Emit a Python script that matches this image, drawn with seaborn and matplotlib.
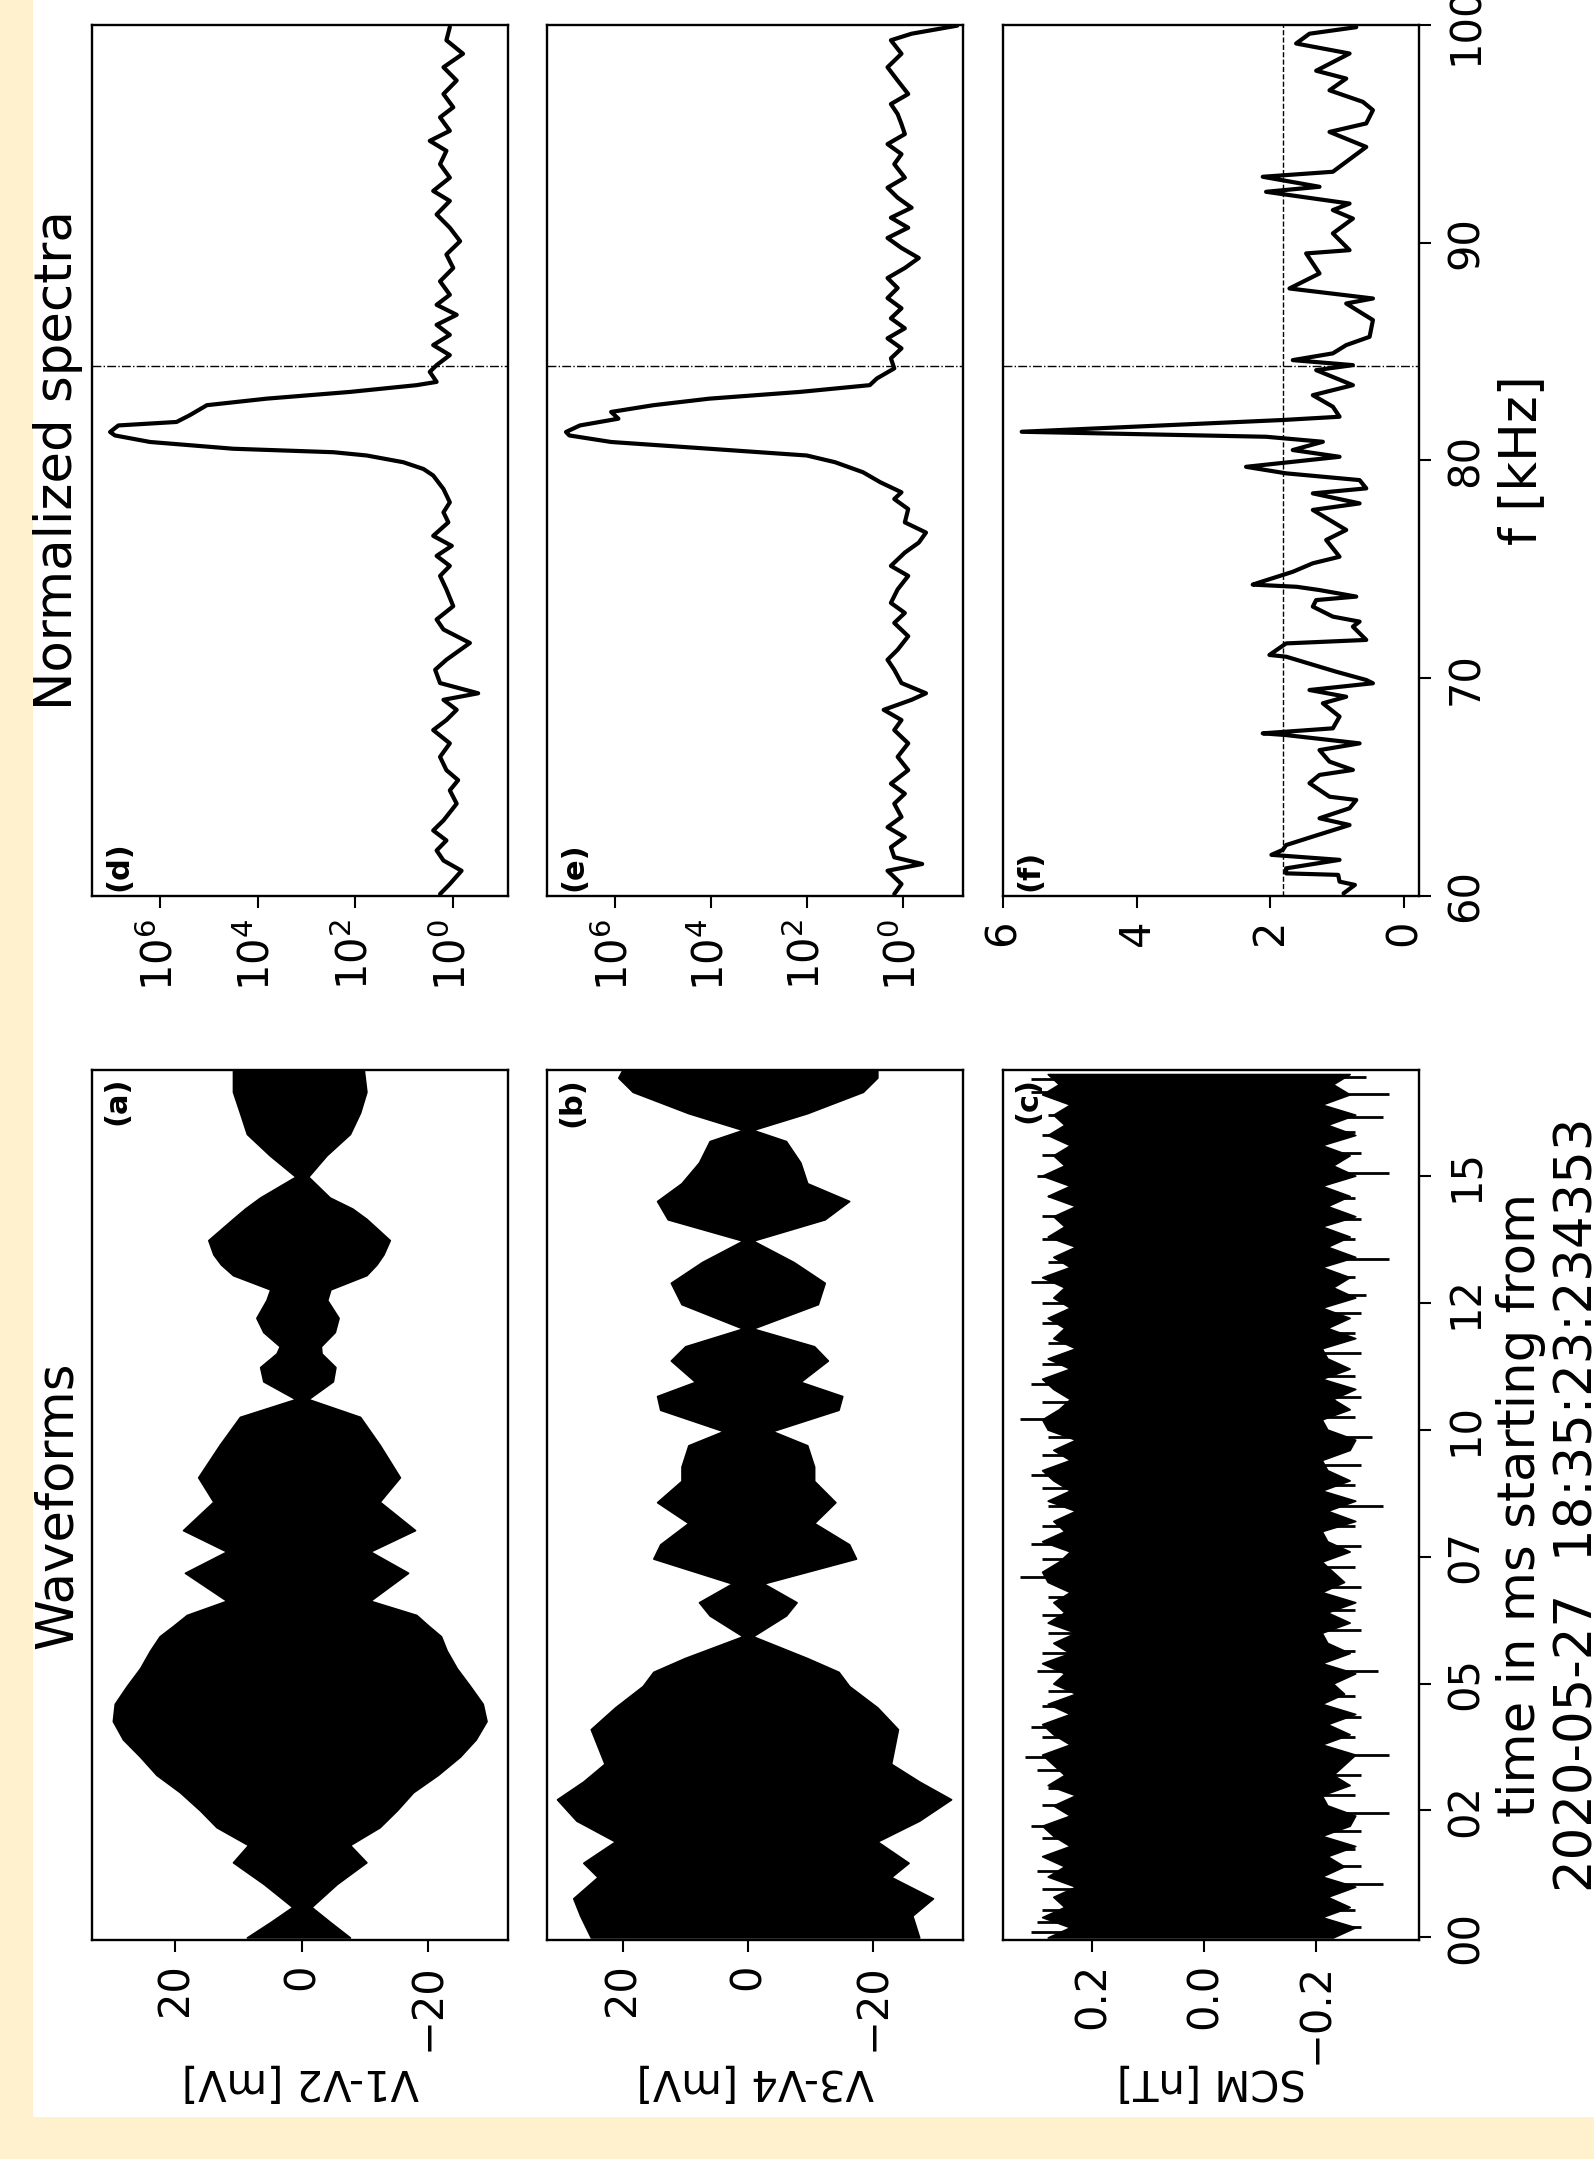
import numpy as np
import pandas as pd
import matplotlib
matplotlib.use("Agg")
import matplotlib.pyplot as plt
from matplotlib.patches import Rectangle
from matplotlib.ticker import FixedLocator, NullLocator
import seaborn as sns

# ---------------- data ----------------
# (a) V1-V2 envelope [mV] vs time [ms]
a_time = [0.0, 0.3, 0.6, 1.05, 1.48, 1.82, 2.17, 2.5, 2.86, 3.2, 3.56, 3.9, 4.26, 4.6, 4.95,
          5.3, 5.65, 5.93, 6.14, 6.35, 6.63, 7.18, 7.6, 8.02, 8.58, 9.06, 9.7, 10.25, 10.6,
          10.95, 11.23, 11.5, 11.64, 11.92, 12.2, 12.55, 12.76, 13.04, 13.25, 13.45, 13.73,
          14.15, 14.35, 14.57, 14.98, 15.4, 15.82, 16.24, 16.65, 17.07]
a_upper = [8.7, 5.0, 1.5, 6.0, 10.9, 8.5, 13.5, 16.1, 19.3, 23.0, 25.6, 28.3, 29.9, 29.6, 27.7,
           25.6, 24.0, 22.5, 20.3, 18.2, 11.9, 18.5, 11.9, 18.8, 14.0, 16.4, 13.0, 9.8, 1.0,
           6.1, 6.6, 4.0, 3.5, 6.1, 7.2, 5.6, 5.0, 10.9, 12.8, 14.0, 14.8, 10.9, 9.0, 6.6, 1.0,
           5.1, 8.7, 9.8, 10.9, 10.9]
a_lower = [-7.6, -4.5, -1.5, -5.5, -10.2, -7.6, -12.3, -15.0, -17.6, -21.5, -25.0, -27.5,
           -29.2, -28.6, -26.6, -24.5, -22.9, -22.0, -20.0, -18.1, -10.8, -16.8, -10.8, -17.9,
           -12.3, -15.5, -12.3, -9.2, -1.0, -4.9, -5.3, -3.1, -3.0, -5.2, -5.8, -4.0, -4.5,
           -10.2, -11.8, -12.9, -13.9, -10.2, -8.0, -4.4, -1.0, -3.9, -7.6, -9.2, -10.2, -9.8]

# (b) V3-V4 envelope [mV]
b_time = [0.0, 0.43, 0.77, 1.19, 1.47, 1.89, 2.3, 2.72, 3.07, 3.42, 4.1, 4.53, 4.95, 5.23,
          5.5, 5.93, 6.34, 6.6, 6.97, 7.46, 7.74, 8.16, 8.57, 8.99, 9.27, 9.69, 9.97, 10.39,
          10.66, 10.94, 11.36, 11.64, 11.99, 12.47, 12.89, 13.3, 13.72, 14.14, 14.5, 14.85,
          15.26, 15.68, 15.9, 16.23, 16.65, 16.93, 17.07]
b_upper = [25.1, 26.8, 27.9, 24.0, 26.3, 21.2, 27.4, 30.5, 26.3, 22.9, 25.1, 21.2, 16.8, 15.1,
           10.1, 0.8, 6.1, 7.8, 2.5, 15.1, 14.0, 9.5, 14.5, 10.6, 10.6, 9.5, 3.9, 14.0, 14.5,
           8.4, 12.3, 10.0, 0.8, 10.6, 12.3, 7.3, 0.8, 12.8, 14.5, 10.6, 7.8, 6.1, 0.8, 9.5,
           18.4, 20.7, 20.1]
b_lower = [-27.4, -26.3, -29.6, -22.9, -25.7, -20.7, -27.4, -32.5, -27.4, -22.9, -24.0, -20.7,
           -16.2, -14.5, -9.5, -0.8, -6.1, -7.8, -2.5, -17.3, -16.2, -10.6, -14.0, -10.6,
           -10.6, -9.5, -3.9, -14.5, -15.1, -8.4, -12.8, -10.6, -0.8, -11.2, -12.3, -7.3,
           -0.8, -12.3, -16.2, -9.5, -8.4, -6.1, -0.8, -9.5, -18.4, -20.7, -20.7]

# (c) SCM: dense core envelope [nT] sampled every 0.2 ms, plus isolated spikes
c_upper = [0.28, 0.24, 0.29, 0.25, 0.27, 0.23, 0.28, 0.25, 0.29, 0.24,
           0.27, 0.29, 0.24, 0.27, 0.23, 0.28, 0.25, 0.27, 0.29, 0.24,
           0.27, 0.29, 0.24, 0.28, 0.23, 0.27, 0.25, 0.29, 0.24, 0.27,
           0.23, 0.28, 0.25, 0.27, 0.24, 0.28, 0.29, 0.26, 0.24, 0.29,
           0.25, 0.27, 0.23, 0.28, 0.24, 0.27, 0.29, 0.24, 0.27, 0.23,
           0.28, 0.29, 0.26, 0.24, 0.27, 0.29, 0.24, 0.28, 0.23, 0.27,
           0.25, 0.28, 0.24, 0.27, 0.25, 0.29, 0.24, 0.27, 0.23, 0.28,
           0.25, 0.27, 0.23, 0.28, 0.24, 0.29, 0.25, 0.27, 0.24, 0.28,
           0.25, 0.27, 0.24, 0.29, 0.26, 0.28]
c_lower = [-0.23, -0.27, -0.21, -0.26, -0.22, -0.27, -0.21, -0.25, -0.22, -0.27,
           -0.21, -0.26, -0.27, -0.22, -0.21, -0.26, -0.23, -0.25, -0.27, -0.21,
           -0.26, -0.22, -0.27, -0.21, -0.25, -0.23, -0.27, -0.21, -0.26, -0.22,
           -0.21, -0.26, -0.22, -0.27, -0.21, -0.25, -0.23, -0.21, -0.26, -0.22,
           -0.21, -0.27, -0.22, -0.27, -0.21, -0.26, -0.22, -0.21, -0.26, -0.27,
           -0.22, -0.21, -0.26, -0.23, -0.27, -0.21, -0.26, -0.22, -0.21, -0.27,
           -0.22, -0.26, -0.21, -0.27, -0.23, -0.26, -0.21, -0.27, -0.22, -0.26,
           -0.21, -0.27, -0.22, -0.26, -0.21, -0.27, -0.23, -0.26, -0.21, -0.27,
           -0.22, -0.27, -0.21, -0.26, -0.23, -0.26]
c_time = np.linspace(0.0, 17.0, len(c_upper))
c_spike_pos_t = [0.10, 0.30, 0.55, 0.95, 1.30, 1.60, 1.95, 2.20, 2.60, 2.95, 3.30, 3.55, 3.95,
                 4.15, 4.55, 4.85, 5.25, 5.60, 6.00, 6.35, 6.70, 7.10, 7.45, 7.75, 8.10, 8.50,
                 8.85, 9.10, 9.50, 9.85, 10.20, 10.55, 10.90, 11.30, 11.70, 12.10, 12.50,
                 12.90, 13.30, 13.75, 14.20, 14.60, 15.00, 15.40, 15.80, 16.20, 16.65, 16.90]
c_spike_pos_v = [0.31, 0.30, 0.29, 0.29, 0.30, 0.28, 0.29, 0.31, 0.29, 0.28, 0.30, 0.32, 0.29,
                 0.31, 0.29, 0.28, 0.30, 0.29, 0.28, 0.29, 0.28, 0.33, 0.29, 0.31, 0.29, 0.28,
                 0.29, 0.31, 0.29, 0.28, 0.33, 0.29, 0.31, 0.29, 0.28, 0.29, 0.29, 0.31, 0.28,
                 0.29, 0.29, 0.28, 0.30, 0.29, 0.29, 0.28, 0.31, 0.31]
c_spike_neg_t = [0.20, 0.55, 1.05, 1.40, 1.75, 2.10, 2.45, 2.80, 3.20, 3.60, 3.95, 4.35, 4.75,
                 5.25, 5.65, 6.05, 6.45, 6.90, 7.30, 7.70, 8.10, 8.50, 8.90, 9.30, 9.85, 10.25,
                 10.65, 11.05, 11.50, 11.90, 12.30, 12.65, 13.00, 13.35, 13.75, 14.15, 14.55,
                 15.05, 15.45, 15.85, 16.15, 16.60, 16.95]
c_spike_neg_v = [-0.28, -0.27, -0.32, -0.28, -0.27, -0.28, -0.33, -0.27, -0.28, -0.33, -0.27,
                 -0.28, -0.27, -0.31, -0.27, -0.28, -0.27, -0.28, -0.27, -0.28, -0.27, -0.32,
                 -0.27, -0.28, -0.30, -0.27, -0.28, -0.27, -0.28, -0.27, -0.28, -0.29, -0.27,
                 -0.33, -0.27, -0.28, -0.27, -0.33, -0.28, -0.27, -0.32, -0.33, -0.29]

# (d) normalized spectrum of V1-V2: frequency [kHz], log10(power)
d_freq = [60.09, 60.55, 61.16, 61.63, 62.09, 62.55, 63.01, 63.47, 64.24, 64.85, 65.32, 65.78,
          66.39, 67.01, 67.62, 68.08, 68.55, 69.01, 69.31, 69.78, 70.39, 70.85, 71.62, 72.24,
          72.70, 73.31, 74.08, 74.70, 75.16, 75.62, 76.08, 76.54, 77.16, 77.62, 78.08, 78.69,
          79.31, 79.61, 79.92, 80.23, 80.38, 80.54, 80.85, 81.15, 81.31, 81.61, 81.77, 82.08,
          82.54, 82.84, 83.15, 83.46, 83.61, 84.07, 84.38, 84.84, 85.30, 85.77, 86.23, 86.69,
          87.15, 87.61, 88.23, 88.84, 89.46, 90.07, 90.69, 91.30, 91.92, 92.38, 92.99, 93.61,
          94.22, 94.68, 95.14, 95.76, 96.22, 96.83, 97.45, 98.06, 98.68, 99.30, 99.91]
d_log10 = [0.27, 0.07, -0.17, 0.20, 0.34, 0.14, 0.41, 0.20, -0.07, 0.07, -0.10, 0.14, 0.27,
           0.07, 0.41, 0.14, -0.07, 0.20, -0.51, 0.27, 0.37, 0.14, -0.34, 0.20, 0.34, 0.00,
           0.14, 0.27, 0.07, 0.34, 0.03, 0.41, 0.10, 0.20, 0.07, 0.20, 0.41, 0.61, 1.02, 1.77,
           2.45, 4.50, 6.20, 6.92, 7.02, 6.85, 5.66, 5.39, 5.04, 3.82, 2.11, 0.75, 0.34, 0.48,
           0.34, 0.07, 0.41, 0.07, 0.34, -0.07, 0.34, 0.07, 0.27, 0.00, 0.14, -0.14, 0.07, 0.34,
           0.07, 0.41, 0.07, 0.27, 0.14, 0.48, 0.07, 0.27, 0.00, 0.20, -0.07, 0.20, -0.20, 0.14,
           0.07]

# (e) normalized spectrum of V3-V4
e_freq = [60.09, 60.55, 61.16, 61.47, 61.78, 62.24, 62.70, 63.16, 63.63, 64.24, 64.70, 65.16,
          65.78, 66.39, 67.01, 67.62, 68.08, 68.55, 69.01, 69.31, 69.78, 70.39, 70.85, 71.31,
          71.93, 72.54, 73.00, 73.46, 74.08, 74.70, 75.16, 75.77, 76.23, 76.69, 77.16, 77.77,
          78.23, 78.54, 79.00, 79.46, 79.92, 80.23, 80.54, 80.85, 81.15, 81.31, 81.61, 81.92,
          82.23, 82.54, 82.84, 83.15, 83.46, 83.77, 84.23, 84.69, 85.15, 85.61, 86.07, 86.53,
          86.99, 87.46, 87.92, 88.38, 88.84, 89.30, 89.76, 90.22, 90.69, 91.15, 91.61, 92.07,
          92.53, 92.99, 93.61, 94.07, 94.53, 94.99, 95.45, 95.91, 96.37, 96.83, 97.45, 98.06,
          98.68, 99.30, 99.60, 99.97]
e_log10 = [0.19, 0.04, 0.33, -0.39, 0.19, 0.26, -0.03, 0.33, 0.04, 0.19, -0.03, 0.26, -0.10,
           0.12, -0.10, 0.19, 0.04, 0.41, -0.17, -0.47, 0.04, 0.19, 0.33, 0.12, -0.10, 0.19,
           -0.03, 0.26, 0.12, -0.10, 0.26, -0.03, -0.32, -0.47, -0.03, -0.10, 0.19, 0.04, 0.48,
           0.84, 1.42, 2.01, 4.04, 6.08, 6.95, 7.02, 6.73, 5.93, 6.08, 5.20, 4.04, 2.15, 0.70,
           0.55, 0.19, 0.26, 0.04, 0.33, -0.03, 0.26, 0.04, 0.33, 0.12, 0.33, -0.03, -0.32,
           0.04, 0.33, -0.10, 0.26, -0.17, 0.12, 0.33, -0.03, 0.19, 0.04, 0.33, -0.03, 0.04,
           0.12, 0.26, -0.10, 0.12, 0.33, 0.04, 0.26, -0.17, -1.12]

# (f) normalized spectrum of SCM (linear)
f_freq = [60.12, 60.51, 60.66, 60.97, 61.04, 61.27, 61.66, 61.89, 62.12, 62.34, 62.73, 63.26,
          63.57, 64.03, 64.41, 64.56, 65.18, 65.56, 65.79, 66.17, 66.70, 67.01, 67.39, 67.47,
          67.70, 68.24, 68.85, 69.15, 69.46, 69.77, 69.92, 70.30, 70.99, 71.07, 71.60, 71.76,
          72.37, 72.60, 72.83, 73.29, 73.59, 73.75, 74.05, 74.20, 74.30, 74.45, 74.89, 75.28,
          75.58, 76.35, 76.81, 77.73, 78.03, 78.49, 78.72, 79.10, 79.41, 79.71, 80.17, 80.48,
          80.86, 81.09, 81.32, 81.86, 82.01, 82.47, 83.00, 83.46, 84.15, 84.38, 84.61, 84.92,
          85.30, 85.68, 86.45, 87.21, 87.44, 87.90, 88.59, 89.51, 89.66, 90.43, 91.11, 91.50,
          91.80, 92.34, 92.57, 93.03, 93.26, 93.49, 94.40, 95.09, 95.48, 96.09, 96.47, 97.00,
          97.54, 97.90, 98.69, 99.15, 99.60, 99.90]
f_value = [0.90, 0.73, 0.96, 0.98, 1.76, 1.76, 0.96, 1.98, 1.81, 1.76, 1.36, 0.81, 1.26, 0.81,
           0.71, 1.11, 1.41, 1.26, 0.76, 1.11, 1.26, 0.66, 1.76, 2.11, 1.06, 0.96, 1.21, 0.86,
           1.41, 0.46, 0.56, 1.01, 1.76, 2.01, 1.76, 0.56, 0.76, 0.66, 1.06, 1.36, 1.31, 0.71,
           1.26, 1.60, 2.26, 2.11, 1.66, 1.36, 0.96, 1.16, 0.86, 1.36, 0.66, 1.36, 0.56, 0.66,
           1.76, 2.36, 0.96, 1.66, 1.21, 2.06, 5.72, 1.81, 0.96, 1.06, 1.36, 0.76, 1.31, 0.76,
           1.66, 1.06, 0.86, 0.51, 0.46, 0.86, 0.46, 1.71, 1.26, 1.46, 0.81, 1.06, 0.76, 1.06,
           0.81, 2.06, 1.26, 2.11, 1.06, 0.96, 0.56, 1.11, 0.56, 0.46, 0.61, 1.11, 0.86, 1.31,
           0.81, 1.61, 1.41, 0.71]

marker_freq = 84.33       # dash-dot reference frequency [kHz]
f_threshold = 1.8         # dashed threshold in (f)

time_ticks = [0, 2.5, 5, 7.5, 10, 12.5, 15]
time_labels = ["00", "02", "05", "07", "10", "12", "15"]
freq_ticks = [60, 70, 80, 90, 100]

# ---------------- style ----------------
sns.set_theme(style="ticks", rc={
    "axes.edgecolor": "black", "axes.linewidth": 1.7, "text.color": "black",
    "axes.labelcolor": "black", "xtick.color": "black", "ytick.color": "black",
    "xtick.major.size": 8.6, "ytick.major.size": 8.6,
    "xtick.major.width": 1.5, "ytick.major.width": 1.5,
    "axes.facecolor": "white",
})
plt.rcParams["font.family"] = ["DejaVu Sans"]
plt.rcParams["mathtext.fontset"] = "dejavusans"

TICK_FS = 30
YLAB_FS = 30
XLAB_FS = 37
TITLE_FS = 37
PANEL_FS = 22

W, H, DPI = 1594, 2159, 100
fig = plt.figure(figsize=(W / DPI, H / DPI), dpi=DPI)
fig.patch.set_facecolor("#FFF1CD")
fig.add_artist(Rectangle((33 / W, 42 / H), 1, 1, transform=fig.transFigure,
                         facecolor="white", edgecolor="none", zorder=-10))


def add_ax(x0, x1, ytop, ybot):
    return fig.add_axes([x0 / W, 1 - ybot / H, (x1 - x0) / W, (ybot - ytop) / H])


cols = [(92, 508), (547, 963), (1003, 1419)]
spec_row = (25, 896)
wave_row = (1070, 1940)

# ---------------- waveforms ----------------
wave_specs = [
    ("(a)", a_time, a_upper, a_lower, (33.2, -32.6), [20, 0, -20], "V1-V2 [mV]"),
    ("(b)", b_time, b_upper, b_lower, (32.1, -34.4), [20, 0, -20], "V3-V4 [mV]"),
    ("(c)", c_time, c_upper, c_lower, (0.36, -0.384), [0.2, 0.0, -0.2], "SCM [nT]"),
]
wave_axes = []
for i, (lab, tt, up, lo, xl, xt, xlab) in enumerate(wave_specs):
    ax = add_ax(cols[i][0], cols[i][1], *wave_row)
    ax.fill_betweenx(np.asarray(tt), np.asarray(lo), np.asarray(up), color="black",
                     linewidth=1.2, edgecolor="black")
    if i == 2:
        ax.hlines(c_spike_pos_t, 0.22, c_spike_pos_v, color="black", linewidth=2.0)
        ax.hlines(c_spike_neg_t, -0.2, c_spike_neg_v, color="black", linewidth=2.0)
    ax.set_xlim(*xl)
    ax.set_ylim(-0.05, 17.08)
    ax.set_xticks(xt)
    if i == 2:
        ax.set_xticklabels(["0.2", "0.0", "\u22120.2"])
    ax.yaxis.tick_right()
    ax.set_yticks(time_ticks)
    ax.set_yticklabels(time_labels)
    ax.tick_params(axis="x", labelsize=TICK_FS, labelrotation=90, pad=8)
    ax.tick_params(axis="y", labelsize=TICK_FS, labelrotation=90, pad=10)
    for t in ax.get_yticklabels():
        t.set_va("center")
    if i < 2:
        ax.tick_params(axis="y", right=False, labelright=False, left=False, labelleft=False)
    ax.set_xlabel(xlab, fontsize=YLAB_FS, rotation=180)
    ax.xaxis.set_label_coords(0.5, -0.138)
    ax.set_ylabel("")
    ax.text(0.025, 0.992, lab, transform=ax.transAxes, rotation=90, ha="left", va="top",
            fontsize=PANEL_FS, fontweight="bold")
    wave_axes.append(ax)

axc = wave_axes[2]
axc.yaxis.set_label_position("right")
axc.set_ylabel("time in ms starting from\n2020-05-27  18:35:23:234353", fontsize=XLAB_FS,
               rotation=90, multialignment="center")
axc.yaxis.set_label_coords(1.185, 0.5)
wave_axes[0].text(-0.142, 0.5, "Waveforms", transform=wave_axes[0].transAxes, rotation=90,
                  ha="left", va="center", fontsize=TITLE_FS)

# ---------------- spectra ----------------
spec_specs = [
    ("(d)", d_freq, list(10.0 ** np.asarray(d_log10)), True, (10 ** 7.39, 10 ** -1.12)),
    ("(e)", e_freq, list(10.0 ** np.asarray(e_log10)), True, (10 ** 7.415, 10 ** -1.24)),
    ("(f)", f_freq, f_value, False, (6.0, -0.23)),
]
spec_axes = []
for i, (lab, fq, val, logx, xl) in enumerate(spec_specs):
    ax = add_ax(cols[i][0], cols[i][1], *spec_row)
    df = pd.DataFrame({"power": val, "freq": fq})
    sns.lineplot(data=df, x="power", y="freq", orient="y", sort=True, estimator=None,
                 color="black", linewidth=3.0, ax=ax)
    ax.axhline(marker_freq, color="black", linestyle="-.", linewidth=1.0)
    if logx:
        ax.set_xscale("log")
        ax.xaxis.set_major_locator(FixedLocator([1e6, 1e4, 1e2, 1e0]))
        ax.xaxis.set_minor_locator(NullLocator())
    else:
        ax.axvline(f_threshold, color="black", linestyle="--", linewidth=1.0)
        ax.set_xticks([6, 4, 2, 0])
    ax.set_xlim(*xl)
    ax.set_ylim(60, 100)
    ax.yaxis.tick_right()
    ax.set_yticks(freq_ticks)
    ax.tick_params(axis="x", labelsize=TICK_FS, labelrotation=90, pad=8)
    ax.tick_params(axis="y", labelsize=TICK_FS, labelrotation=90, pad=10)
    for t in ax.get_yticklabels():
        t.set_va("center")
    if i < 2:
        ax.tick_params(axis="y", right=False, labelright=False, left=False, labelleft=False)
    ax.set_xlabel("")
    ax.set_ylabel("")
    ax.text(0.03, 0.006, lab, transform=ax.transAxes, rotation=90, ha="left", va="bottom",
            fontsize=PANEL_FS, fontweight="bold")
    spec_axes.append(ax)

axf = spec_axes[2]
axf.yaxis.set_label_position("right")
axf.set_ylabel("f [kHz]", fontsize=XLAB_FS, rotation=90)
axf.yaxis.set_label_coords(1.1875, 0.5)
spec_axes[0].text(-0.142, 0.5, "Normalized spectra", transform=spec_axes[0].transAxes,
                  rotation=90, ha="left", va="center", fontsize=TITLE_FS)

fig.savefig("out.png", dpi=DPI, facecolor=fig.get_facecolor())
